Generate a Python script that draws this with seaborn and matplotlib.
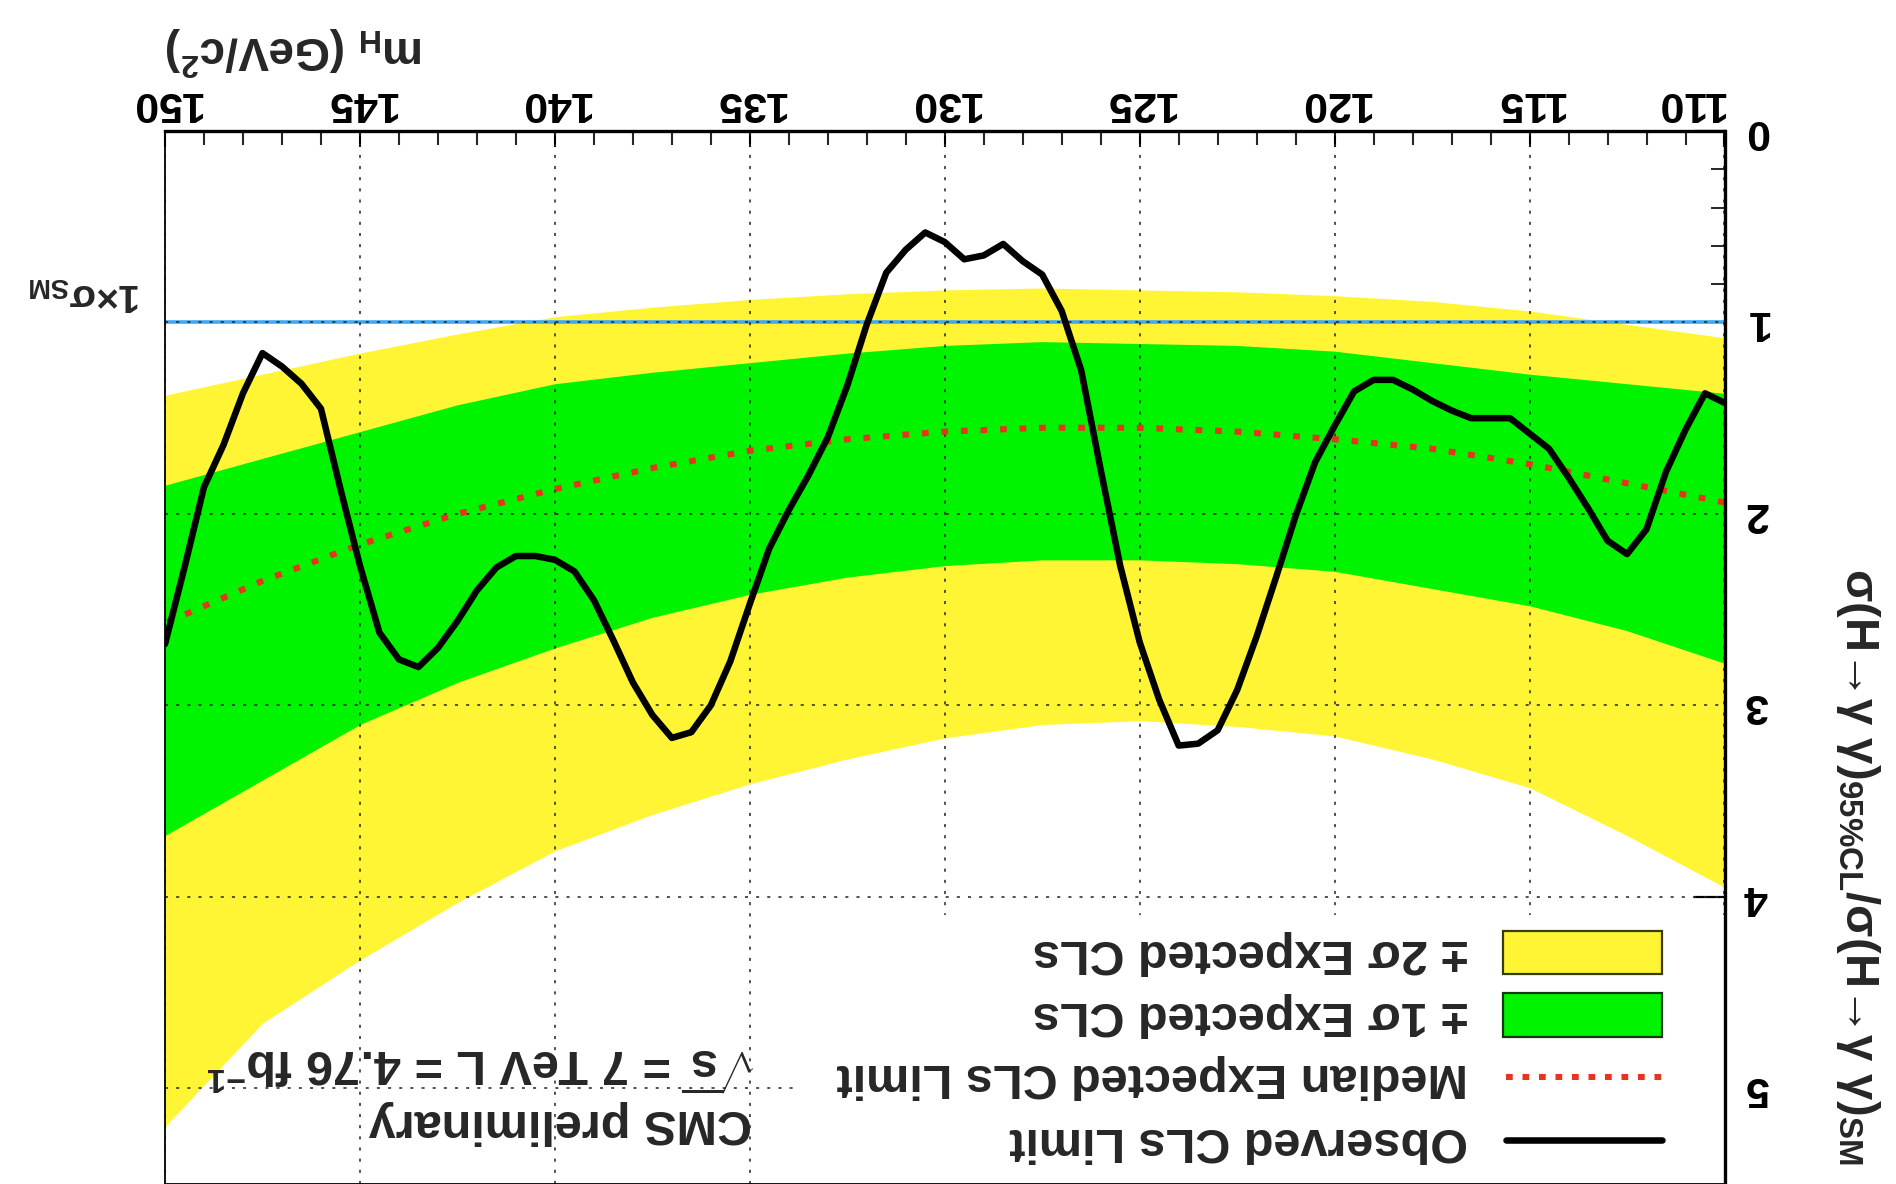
import numpy as np
import matplotlib
matplotlib.use("Agg")
import matplotlib.pyplot as plt
import seaborn as sns
from matplotlib.patches import Rectangle
from matplotlib.lines import Line2D
from matplotlib.ticker import MultipleLocator

# ---- data -------------------------------------------------------------
mass_obs = np.arange(110.0, 150.01, 0.5)
obs_limit = [1.42, 1.37, 1.56, 1.78, 2.08, 2.21, 2.14, 1.97, 1.81, 1.66,
             1.58, 1.50, 1.50, 1.50, 1.46, 1.41, 1.35, 1.30, 1.30, 1.36,
             1.54, 1.73, 2.01, 2.33, 2.64, 2.92, 3.13, 3.20, 3.21, 2.97,
             2.67, 2.27, 1.77, 1.25, 0.94, 0.75, 0.68, 0.59, 0.65, 0.67,
             0.58, 0.53, 0.62, 0.74, 1.01, 1.33, 1.60, 1.80, 1.98, 2.18,
             2.47, 2.77, 3.00, 3.14, 3.17, 3.05, 2.88, 2.66, 2.45, 2.30,
             2.24, 2.22, 2.22, 2.28, 2.40, 2.56, 2.70, 2.80, 2.76, 2.62,
             2.27, 1.87, 1.45, 1.32, 1.23, 1.16, 1.37, 1.64, 1.86, 2.28,
             2.68]

mass_exp = [110, 112.5, 115, 117.5, 120, 122.5, 125, 127.5, 130,
            132.5, 135, 137.5, 140, 142.5, 145, 147.5, 150]
exp_median = [1.94, 1.84, 1.74, 1.66, 1.61, 1.57, 1.55, 1.55, 1.57,
              1.61, 1.67, 1.76, 1.87, 2.00, 2.16, 2.35, 2.57]
one_sigma_lo = [1.37, 1.32, 1.27, 1.21, 1.15, 1.12, 1.11, 1.10, 1.12,
                1.16, 1.21, 1.26, 1.32, 1.43, 1.57, 1.71, 1.85]
one_sigma_hi = [2.78, 2.61, 2.48, 2.39, 2.30, 2.26, 2.24, 2.24, 2.27,
                2.33, 2.42, 2.54, 2.70, 2.88, 3.10, 3.39, 3.68]
two_sigma_lo = [1.08, 1.01, 0.94, 0.89, 0.86, 0.84, 0.83, 0.82, 0.83,
                0.85, 0.88, 0.92, 0.97, 1.06, 1.16, 1.27, 1.38]
two_sigma_hi = [3.95, 3.68, 3.43, 3.28, 3.16, 3.11, 3.08, 3.10, 3.17,
                3.28, 3.41, 3.57, 3.76, 4.03, 4.33, 4.66, 5.20]

sm_reference = 1.0
x_ticks = [110, 115, 120, 125, 130, 135, 140, 145, 150]
y_ticks = [0, 1, 2, 3, 4, 5]

legend_labels = ["Observed CLs Limit", "Median Expected CLs Limit",
                 "\u00b1 1\u03c3 Expected CLs", "\u00b1 2\u03c3 Expected CLs"]

# ---- style ------------------------------------------------------------
sns.set_theme(style="white")
plt.rcParams["font.family"] = ["Liberation Sans", "DejaVu Sans"]
plt.rcParams["font.weight"] = "bold"
plt.rcParams["mathtext.fontset"] = "custom"
plt.rcParams["mathtext.rm"] = "Liberation Sans:bold"
plt.rcParams["mathtext.bf"] = "Liberation Sans:bold"
plt.rcParams["mathtext.it"] = "Liberation Sans:bold:italic"
plt.rcParams["mathtext.sf"] = "Liberation Sans:bold"
plt.rcParams["mathtext.default"] = "bf"

YELLOW = "#fff534"
GREEN = "#00f400"
RED = "#e3361c"
BLUE = "#3fa9f5"

W, H = 1896, 1184
fig = plt.figure(figsize=(W / 100, H / 100), dpi=100)
fig.patch.set_facecolor("white")

# axes frame in pixel terms (the whole chart is shown turned upside down)
ax_l, ax_r, ax_t, ax_b = 165, 1724.5, 131, 1184
ax = fig.add_axes([ax_l / W, 1 - ax_b / H, (ax_r - ax_l) / W, (ax_b - ax_t) / H])
ax.set_facecolor("white")


def fx(px):
    return px / W


def fy(py):
    return 1 - py / H


# bands
ax.fill_between(mass_exp, two_sigma_lo, two_sigma_hi, color=YELLOW, lw=0, zorder=1.0)
ax.fill_between(mass_exp, one_sigma_lo, one_sigma_hi, color=GREEN, lw=0, zorder=1.1)

# SM reference line
ax.axhline(sm_reference, color=BLUE, lw=2.6, zorder=1.5)

# dotted grid at the major ticks
for v in x_ticks:
    ax.axvline(v, color="#222222", lw=1.1, dashes=(2.0, 5.3), zorder=1.8)
for v in y_ticks:
    ax.axhline(v, color="#222222", lw=1.1, dashes=(2.0, 5.3), zorder=1.8)

# white legend area hides the grid below it
ax.add_patch(Rectangle(((793 - ax_l) / (ax_r - ax_l), 0), 1, (ax_b - 915) / (ax_b - ax_t),
                       transform=ax.transAxes, facecolor="white", edgecolor="none", zorder=2.0))

# expected median and observed limit
sns.lineplot(x=mass_exp, y=exp_median, ax=ax, color=RED, lw=4.4, zorder=2.9,
             sort=False, estimator=None)
ax.lines[-1].set_dashes((1.1, 2.1))
sns.lineplot(x=mass_obs, y=obs_limit, ax=ax, color="black", lw=4.7, zorder=3.0,
             sort=False, estimator=None)

# axes: inverted in both directions
ax.set_xlim(150, 110)
ax.set_ylim(5.5, 0)
ax.set_xlabel("")
ax.set_ylabel("")
ax.xaxis.tick_top()
ax.yaxis.tick_right()
ax.set_xticks(x_ticks)
ax.set_yticks(y_ticks)
ax.xaxis.set_minor_locator(MultipleLocator(1))
ax.yaxis.set_minor_locator(MultipleLocator(0.2))
ax.tick_params(axis="x", which="major", direction="in", length=11.5, width=1.5,
               labelsize=31, pad=6, labelrotation=180, colors="black")
ax.tick_params(axis="x", which="minor", direction="in", length=10, width=1.5)
ax.tick_params(axis="y", which="major", direction="in", length=22, width=1.6,
               labelsize=31, pad=14, labelrotation=180, colors="black")
ax.tick_params(axis="y", which="minor", direction="in", length=10, width=1.4)
fig.canvas.draw()
for t in ax.get_xticklabels():
    t.set_fontweight("bold")
    # the end label is kept inside the frame, next to the y labels
    if t.get_text() == str(x_ticks[0]):
        t.set_horizontalalignment("right")
for t in ax.get_yticklabels():
    t.set_fontweight("bold")
    t.set_verticalalignment("center")

for side, lw in (("top", 2.4), ("right", 2.4), ("left", 1.3), ("bottom", 1.3)):
    ax.spines[side].set_visible(True)
    ax.spines[side].set_color("black")
    ax.spines[side].set_linewidth(lw)
    ax.spines[side].set_zorder(5)

# axis titles and annotations (rotated with the chart)
fig.text(fx(166), fy(51), r"m$_{\mathbf{H}}$ (GeV/c$^{\mathbf{2}}$)", rotation=180,
         ha="left", va="center", fontsize=33, fontweight="bold")
fig.text(fx(141), fy(294), "1\u00d7\u03c3$_{\\mathbf{SM}}$", rotation=180,
         ha="right", va="center", fontsize=28, fontweight="bold")
fig.text(fx(1858), fy(568),
         "\u03c3(H\u2192\u03b3 \u03b3)$_{\\mathbf{95\\%CL}}$/\u03c3(H\u2192\u03b3 \u03b3)$_{\\mathbf{SM}}$",
         rotation=270, ha="center", va="top", fontsize=34, fontweight="bold")
fig.text(fx(752), fy(1123), "CMS preliminary", rotation=180,
         ha="right", va="center", fontsize=35, fontweight="bold")
fig.text(fx(758), fy(1063), r"$\sqrt{\mathbf{s}}$ = 7 TeV L = 4.76 fb$^{\mathbf{-1}}$",
         rotation=180, ha="right", va="center", fontsize=35, fontweight="bold")

# legend, drawn by hand so it can be turned with the chart
kx0, kx1 = 1503, 1662
fig.add_artist(Rectangle((fx(kx0), fy(974)), (kx1 - kx0) / W, (974 - 931) / H,
                         transform=fig.transFigure, facecolor=YELLOW,
                         edgecolor="#3a3a10", lw=1.6))
fig.add_artist(Rectangle((fx(kx0), fy(1037)), (kx1 - kx0) / W, (1037 - 993) / H,
                         transform=fig.transFigure, facecolor=GREEN,
                         edgecolor="#103a10", lw=1.6))
fig.add_artist(Line2D([fx(kx0 + 3), fx(kx1)], [fy(1077), fy(1077)], transform=fig.transFigure,
                      color=RED, lw=4.4, dashes=(1.1, 1.6)))
fig.add_artist(Line2D([fx(kx0 + 3), fx(kx1)], [fy(1140), fy(1140)], transform=fig.transFigure,
                      color="black", lw=4.7))
for label, row in zip(legend_labels, [1140, 1077, 1015, 952]):
    fig.text(fx(1468), fy(row), label, rotation=180, ha="right", va="center",
             fontsize=35, fontweight="bold")

fig.savefig("out.png", dpi=100, facecolor="white")
